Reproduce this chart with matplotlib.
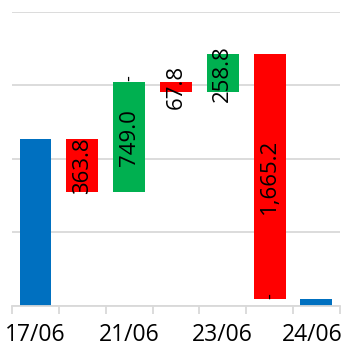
import numpy as np
import matplotlib
matplotlib.use("Agg")
from matplotlib import pyplot as plt
from matplotlib import transforms
from matplotlib.ticker import MultipleLocator, FixedLocator

# ── Data ──────────────────────────────────────────────────────────────────────
categories  = ['17/06', '20/06', '21/06', '22/06', '23/06', '23/06b', '24/06']
tick_labels = ['17/06', '', '21/06', '', '23/06', '', '24/06']
start_value = 1136.0
changes     = [-363.8, 749.0, -67.8, 258.8, -1665.2]
end_value   = 47.0

BLUE, RED, GREEN = '#0070C0', '#FF0000', '#00B050'

plt.rcParams['font.family'] = ['Open Sans', 'DejaVu Sans']

fig = plt.figure(figsize=(3.45, 3.48), dpi=100)
ax = fig.add_axes([0.035, 0.1207, 0.95, 0.845])

x = np.arange(len(categories))
width = 0.68

# totals
ax.bar(x[0], start_value, width=width, color=BLUE, zorder=3)
ax.bar(x[-1], end_value, width=width, color=BLUE, zorder=3)

# changes
levels = start_value + np.concatenate([[0], np.cumsum(changes)])
for i, d in enumerate(changes):
    xi = x[i + 1]
    lo, hi = min(levels[i], levels[i + 1]), max(levels[i], levels[i + 1])
    ax.bar(xi, hi - lo, bottom=lo, width=width,
           color=GREEN if d > 0 else RED, zorder=3)
    ax.text(xi, (lo + hi) / 2, '{:,.1f}'.format(abs(d)), rotation=90,
            ha='center', va='center', fontsize=16, color='black', zorder=4)

# zero labels shown as dashes
ax.annotate('-', (x[2], levels[2]), xytext=(0, 3), textcoords='offset points',
            rotation=90, ha='center', va='center', fontsize=13, zorder=4)
ax.annotate('-', (x[5], levels[5]), xytext=(0, 2), textcoords='offset points',
            rotation=90, ha='center', va='center', fontsize=13, zorder=4)

# ── Axes styling ──────────────────────────────────────────────────────────────
ax.set_xlim(-0.5, len(categories) - 0.5)
ax.set_ylim(0, 2000)
ax.yaxis.set_major_locator(MultipleLocator(500))
ax.grid(axis='y', color='#D9D9D9', linewidth=1.3, zorder=0)
ax.tick_params(axis='y', left=False, labelleft=False)

for s in ['top', 'right', 'left']:
    ax.spines[s].set_visible(False)
ax.spines['bottom'].set_color('#D9D9D9')
ax.spines['bottom'].set_linewidth(1.3)
ax.spines['bottom'].set_zorder(5)

ax.xaxis.set_major_locator(FixedLocator(np.arange(-0.5, len(categories), 1.0)))
ax.xaxis.set_minor_locator(FixedLocator(x))
ax.tick_params(axis='x', which='major', length=6, width=1.3, color='#D9D9D9',
               labelbottom=False)
ax.tick_params(axis='x', which='minor', length=0, pad=12, labelsize=16.5)
ax.set_xticklabels(tick_labels, minor=True)

# keep the last label inside the figure
last = ax.get_xticklabels(minor=True)[-1]
last.set_transform(last.get_transform()
                   + transforms.ScaledTranslation(-0.045, 0, fig.dpi_scale_trans))

fig.savefig('out.png', dpi=100)
